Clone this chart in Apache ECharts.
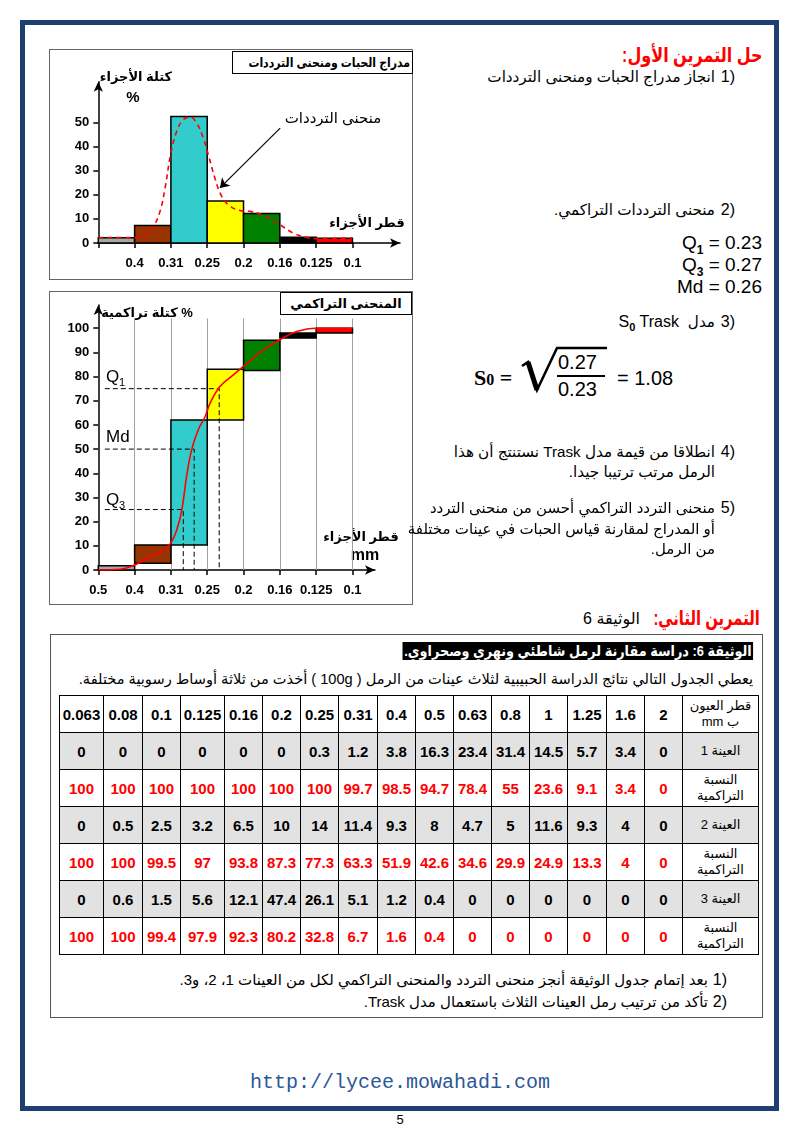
<!DOCTYPE html>
<html><head><meta charset="utf-8">
<script src="https://cdn.jsdelivr.net/npm/echarts@6/dist/echarts.min.js"></script>
<style>
body{margin:0;width:800px;height:1131px;position:relative;background:#fff;font-family:"Liberation Sans","DejaVu Sans",sans-serif;color:#000;overflow:hidden}
.a{position:absolute;white-space:nowrap}
.r{direction:rtl;text-align:right}
.num{position:absolute;white-space:nowrap;direction:ltr;unicode-bidi:bidi-override;font-size:16px;line-height:20px}
.box{position:absolute;box-sizing:border-box}
.sx{transform-origin:100% 50%}
table.t{position:absolute;left:59px;top:695px;border-collapse:collapse;table-layout:fixed;direction:rtl}
table.t td{border:1.5px solid #000;height:36px;padding:0;text-align:center;font-weight:bold;font-size:15px;font-family:"Liberation Sans",sans-serif}
table.t td.lab{font-weight:normal;font-size:13px;line-height:16px;font-family:"Liberation Sans","DejaVu Sans",sans-serif}
table.t tr.g td{background:#e2e2e2}
table.t tr.c td{color:#ff0000}
table.t tr.c td.lab{color:#000}
</style></head><body>
<div class="box" style="left:20px;top:20px;width:759px;height:1091px;border:5px solid #1f3f73"></div>

<div class="box" style="left:49px;top:49px;width:364px;height:231px;border:1.5px solid #666"></div>
<div id="c1" class="a" style="left:49px;top:49px;width:364px;height:231px"></div>
<div class="box" style="left:232px;top:51px;width:181px;height:23px;border:1px solid #000;background:#fff;font-weight:bold;font-size:13px;line-height:21px;text-align:center;white-space:nowrap;overflow:visible"><span style="display:inline-block;direction:rtl;transform:scaleX(0.84);transform-origin:50% 50%">مدراج الحبات ومنحنى الترددات</span></div>

<div class="box" style="left:49px;top:291px;width:364px;height:314px;border:1.5px solid #666"></div>
<div id="c2" class="a" style="left:49px;top:291px;width:364px;height:314px"></div>
<div class="box" style="left:280px;top:292px;width:132px;height:23px;border:1px solid #000;background:#fff;font-weight:bold;font-size:13px;line-height:21px;text-align:center;direction:rtl;white-space:nowrap">المنحنى التراكمي</div>

<!-- right column -->
<div class="a r sx" style="right:38px;top:43px;font-size:20px;line-height:24px;font-weight:bold;color:#ff0000;transform:scaleX(0.8)">حل التمرين الأول:</div>
<div class="num" style="right:65px;top:67px">1)</div>
<div class="a r" style="right:85px;top:67px;font-size:15.2px;line-height:20px">انجاز مدراج الحبات ومنحنى الترددات</div>
<div class="num" style="right:65px;top:200px">2)</div>
<div class="a r" style="right:85px;top:200px;font-size:15.2px;line-height:20px">منحنى الترددات التراكمي.</div>
<div class="a" style="right:38px;top:232px;font-size:19px;line-height:22px;text-align:right">Q<sub style="font-size:12px;font-weight:bold">1</sub> = 0.23</div>
<div class="a" style="right:38px;top:254px;font-size:19px;line-height:22px;text-align:right">Q<sub style="font-size:12px;font-weight:bold">3</sub> = 0.27</div>
<div class="a" style="right:38px;top:276px;font-size:19px;line-height:22px;text-align:right">Md = 0.26</div>
<div class="num" style="right:65px;top:312px">3)</div>
<div class="a r" style="right:85px;top:312px;font-size:16px;line-height:20px"><span style="font-size:15.2px">مدل</span>&nbsp;&nbsp;S<sub style="font-size:11px;font-weight:bold">0</sub> Trask</div>

<div class="a" style="left:474px;top:365px;font-family:'Liberation Serif',serif;font-weight:bold;font-size:22px;line-height:26px">S<span style="font-size:16px">0</span> =</div>
<svg class="a" style="left:515px;top:340px" width="100" height="60">
  <polyline points="7,26 13,22 22,50 42,8 92,8" fill="none" stroke="#000" stroke-width="2.5" stroke-linejoin="miter"/>
  <polyline points="13,22 22,50" fill="none" stroke="#000" stroke-width="5"/>
  <line x1="42" y1="36" x2="90" y2="36" stroke="#000" stroke-width="2"/>
</svg>
<div class="a" style="left:558px;top:350px;font-size:20px;line-height:24px">0.27</div>
<div class="a" style="left:558px;top:377px;font-size:20px;line-height:24px">0.23</div>
<div class="a" style="left:617px;top:366px;font-size:20px;line-height:24px">= 1.08</div>

<div class="num" style="right:65px;top:442px">4)</div>
<div class="a r" style="right:85px;top:442px;font-size:15.2px;line-height:20px">انطلاقا من قيمة مدل Trask نستنتج أن هذا</div>
<div class="a r" style="right:85px;top:462px;font-size:15.2px;line-height:20px">الرمل مرتب ترتيبا جيدا.</div>
<div class="num" style="right:65px;top:498px">5)</div>
<div class="a r" style="right:85px;top:498px;font-size:15px;line-height:20px">منحنى التردد التراكمي أحسن من منحنى التردد</div>
<div class="a r" style="right:85px;top:519px;font-size:15px;line-height:20px">أو المدراج لمقارنة قياس الحبات في عينات مختلفة</div>
<div class="a r" style="right:85px;top:539px;font-size:15px;line-height:20px">من الرمل.</div>

<div class="a r sx" style="right:40px;top:606px;font-size:20px;line-height:24px;color:#ff0000;font-weight:bold;transform:scaleX(0.74)">التمرين الثاني:</div>
<div class="a r" style="right:160px;top:609px;font-size:16px;line-height:20px">الوثيقة 6</div>

<div class="box" style="left:50px;top:634px;width:713px;height:384px;border:1.5px solid #555"></div>
<div class="a r sx" style="right:47px;top:642px;font-size:15px;line-height:18px;font-weight:bold;color:#fff;background:#000;padding:0 2px;transform:scaleX(0.855)">الوثيقة 6: دراسة مقارنة لرمل شاطئي ونهري وصحراوي.</div>
<div class="a r" style="right:47px;top:669px;font-size:14.6px;line-height:20px">يعطي الجدول التالي نتائج الدراسة الحبيبية لثلاث عينات من الرمل ( 100g ) أخذت من ثلاثة أوساط رسوبية مختلفة.</div>
<table class="t" id="tbl"></table>

<div class="num" style="right:73px;top:970px">1)</div>
<div class="a r" style="right:92px;top:970px;font-size:15px;line-height:20px">بعد إتمام جدول الوثيقة أنجز منحنى التردد والمنحنى التراكمي لكل من العينات 1، 2، و3.</div>
<div class="num" style="right:73px;top:992px">2)</div>
<div class="a r" style="right:92px;top:992px;font-size:15px;line-height:20px">تأكد من ترتيب رمل العينات الثلاث باستعمال مدل Trask.</div>

<div class="a" style="left:0;width:800px;top:1071px;text-align:center;font-family:'Liberation Mono',monospace;font-size:20px;line-height:24px;color:#2b5797">http://lycee.mowahadi.com</div>
<div class="a" style="left:0;width:800px;top:1112px;text-align:center;font-size:13px;line-height:16px">5</div>

<script>
// ---------- data: exercise 1 charts ----------
const sieveLabels = ['0.5','0.4','0.31','0.25','0.2','0.16','0.125','0.1'];
const massPct = [2.2, 7.2, 52.4, 17.4, 12.2, 2.4, 2.0];
const cumLow  = [0, 2.8, 10.3, 62, 82.5, 96, 98];
const cumHigh = [1.8, 10.3, 62, 83, 95, 98, 100];
const freqCurveX = [0, 1.01, 1.33, 1.52, 1.70, 1.84, 1.99, 2.16, 2.34, 2.53, 2.71, 2.89, 3.03, 3.21, 3.40, 3.63, 3.90, 4.18, 4.55, 5.0, 5.37, 5.74, 6.01, 7.0];
const freqCurveY = [2.3, 2.3, 4.1, 6.9, 13.1, 22.8, 36.6, 46.3, 51.1, 52.1, 49.7, 43.5, 36.6, 26.9, 19.3, 15.2, 13.5, 13.1, 11.5, 7.6, 4.1, 2.3, 1.8, 2.1];
const cumCurveX = [0, 0.6, 1.01, 1.42, 1.79, 1.99, 2.16, 2.30, 2.43, 2.57, 2.75, 2.94, 3.08, 3.35, 3.72, 3.99, 4.55, 5.0, 5.46, 6.01, 7.0];
const cumCurveY = [0, 0.3, 2.1, 5.5, 8.3, 11, 16.6, 24.8, 38.6, 49.7, 57.9, 63.4, 69, 75.9, 80.7, 84.1, 91, 95.2, 98.6, 100, 100];
const quartileNames = ['Q1', 'Md', 'Q3'];
const quartileLevels = [75, 50, 25];
const quartileX = [3.33, 2.64, 2.34];

// ---------- data: document 6 table ----------
const sizes = ['2','1.6','1.25','1','0.8','0.63','0.5','0.4','0.31','0.25','0.2','0.16','0.125','0.1','0.08','0.063'];
const sample1 = [0,3.4,5.7,14.5,31.4,23.4,16.3,3.8,1.2,0.3,0,0,0,0,0,0];
const cum1    = [0,3.4,9.1,23.6,55,78.4,94.7,98.5,99.7,100,100,100,100,100,100,100];
const sample2 = [0,4,9.3,11.6,5,4.7,8,9.3,11.4,14,10,6.5,3.2,2.5,0.5,0];
const cum2    = [0,4,13.3,24.9,29.9,34.6,42.6,51.9,63.3,77.3,87.3,93.8,97,99.5,100,100];
const sample3 = [0,0,0,0,0,0,0.4,1.2,5.1,26.1,47.4,12.1,5.6,1.5,0.6,0];
const cum3    = [0,0,0,0,0,0,0.4,1.6,6.7,32.8,80.2,92.3,97.9,99.4,100,100];
const rowLabels = ['قطر العيون<br>ب mm','العينة 1','النسبة<br>التراكمية','العينة 2','النسبة<br>التراكمية','العينة 3','النسبة<br>التراكمية'];

// build table
(function(){
  const widths = [76,38,38,39,38,38,38,38,38,39,38,38,38,44,38,39,44];
  const rows = [sizes, sample1, cum1, sample2, cum2, sample3, cum3];
  const cls = ['', 'g', 'c', 'g', 'c', 'g', 'c'];
  let h = '<colgroup>' + widths.map(w => '<col style="width:' + w + 'px">').join('') + '</colgroup>';
  rows.forEach((r, k) => {
    h += '<tr class="' + cls[k] + '"><td class="lab">' + rowLabels[k] + '</td>' + r.map(v => '<td>' + v + '</td>').join('') + '</tr>';
  });
  const t = document.getElementById('tbl');
  t.innerHTML = h;
  t.style.width = widths.reduce((a, b) => a + b, 0) + 'px';
})();

const FONT = '"Liberation Sans", "DejaVu Sans", sans-serif';
const binColors = ['#a6a6a6','#993300','#33cccc','#ffff00','#008000','#000000','#ff0000'];
const axisLineStyle = {color:'#000', width:1.5};
const lab = {color:'#000', fontWeight:'bold', fontSize:13, fontFamily:FONT};

// ---------- chart 1: histogram + frequency curve ----------
const c1 = echarts.init(document.getElementById('c1'));
c1.setOption({
  animation:false,
  grid:{left:49.3, top:32.7, right:13, bottom:37},
  xAxis:{type:'value', min:0, max:8.31,
    axisLine:{show:true, lineStyle:axisLineStyle, symbol:['none','arrow'], symbolSize:[7,10]},
    axisTick:{show:true, customValues:[0,1,2,3,4,5,6,7], length:5, lineStyle:axisLineStyle},
    axisLabel:Object.assign({customValues:[1,2,3,4,5,6,7], margin:14, formatter:v => sieveLabels[Math.round(v)]}, lab),
    splitLine:{show:false}},
  yAxis:{type:'value', min:0, max:66.8,
    axisLine:{show:true, lineStyle:axisLineStyle, symbol:['none','arrow'], symbolSize:[7,10]},
    axisTick:{show:true, customValues:[0,10,20,30,40,50], length:5, lineStyle:axisLineStyle},
    axisLabel:Object.assign({customValues:[0,10,20,30,40,50], margin:9}, lab),
    splitLine:{show:false}},
  series:[
    {type:'custom', data:massPct.map((v,i) => [i, v]), encode:{x:0, y:1},
     renderItem:(p, api) => {
       const i = api.value(0), v = api.value(1);
       const a = api.coord([i, 0]), b = api.coord([i + 1, v]);
       return {type:'rect', shape:{x:a[0], y:b[1], width:b[0]-a[0], height:a[1]-b[1]},
               style:{fill:binColors[i], stroke:'#000', lineWidth:1.5}};
     }, z:2},
    {type:'line', data:freqCurveX.map((x,i) => [x, freqCurveY[i]]), smooth:0.4, showSymbol:false,
     lineStyle:{color:'#ff0000', width:1.6, type:[5,4]}, z:3,
     markLine:{silent:true, symbol:['none','arrow'], symbolSize:9, label:{show:false},
       lineStyle:{color:'#000', width:1.2, type:'solid'},
       data:[[{coord:[5.01, 47.6]}, {coord:[3.35, 22.8]}]]}}
  ],
  graphic:[
    {type:'text', x:87, y:28, style:{text:'كتلة الأجزاء', font:'bold 13px ' + FONT, align:'center', verticalAlign:'middle', fill:'#000'}},
    {type:'text', x:84, y:49, style:{text:'%', font:'bold 15px ' + FONT, align:'center', verticalAlign:'middle', fill:'#000'}},
    {type:'text', x:284, y:70, style:{text:'منحنى الترددات', font:'15px ' + FONT, align:'center', verticalAlign:'middle', fill:'#000'}},
    {type:'text', x:318, y:174, style:{text:'قطر الأجزاء', font:'bold 13px ' + FONT, align:'center', verticalAlign:'middle', fill:'#000'}}
  ]
});

// ---------- chart 2: cumulative curve ----------
const c2 = echarts.init(document.getElementById('c2'));
const qSeries = quartileLevels.map((lv, k) => ({
  type:'line', name:quartileNames[k], data:[[0.18, lv], [quartileX[k], lv], [quartileX[k], 0]], showSymbol:false, silent:true,
  lineStyle:{color:'#000', width:1, type:[5,3]}, z:4
}));
c2.setOption({
  animation:false,
  grid:{left:49.3, top:14, right:38, bottom:35},
  xAxis:{type:'value', min:0, max:7.62,
    axisLine:{show:true, lineStyle:axisLineStyle, symbol:['none','arrow'], symbolSize:[7,10]},
    axisTick:{show:true, customValues:[0,1,2,3,4,5,6,7], length:5, lineStyle:axisLineStyle},
    axisLabel:Object.assign({customValues:[0,1,2,3,4,5,6,7], margin:14, formatter:v => sieveLabels[Math.round(v)]}, lab),
    splitLine:{show:false}},
  yAxis:{type:'value', min:0, max:109.6,
    axisLine:{show:true, lineStyle:axisLineStyle, symbol:['none','arrow'], symbolSize:[7,10]},
    axisTick:{show:true, customValues:[0,10,20,30,40,50,60,70,80,90,100], length:5, lineStyle:axisLineStyle},
    axisLabel:Object.assign({customValues:[0,10,20,30,40,50,60,70,80,90,100], margin:9}, lab),
    splitLine:{show:false}},
  series:[
    {type:'custom', data:cumLow.map((lo,i) => [i, lo, cumHigh[i]]), encode:{x:0, y:[1,2]},
     renderItem:(p, api) => {
       const i = api.value(0), lo = api.value(1), hi = api.value(2);
       const a = api.coord([i, lo]), b = api.coord([i + 1, hi]);
       return {type:'rect', shape:{x:a[0], y:b[1], width:b[0]-a[0], height:a[1]-b[1]},
               style:{fill:binColors[i], stroke:'#000', lineWidth:1.5}};
     }, z:3,
     markLine:{silent:true, symbol:['none','none'], label:{show:false}, z:1,
       lineStyle:{color:'#a0a0a0', width:1, type:'solid'},
       data:[1,2,3,4,5,6,7].map(i => [{coord:[i, 0]}, {coord:[i, 104]}])}}
  ].concat(qSeries).concat([
    {type:'line', data:cumCurveX.map((x,i) => [x, cumCurveY[i]]), smooth:0.4, showSymbol:false,
     lineStyle:{color:'#ff0000', width:1.6}, z:5}
  ]),
  graphic:[
    {type:'text', x:98, y:22, style:{text:'كتلة تراكمية %', font:'bold 13px ' + FONT, align:'center', verticalAlign:'middle', fill:'#000'}},
    {type:'text', x:312, y:246, style:{text:'قطر الأجزاء', font:'bold 13px ' + FONT, align:'center', verticalAlign:'middle', fill:'#000'}},
    {type:'text', x:316, y:265, style:{text:'mm', font:'bold 16px ' + FONT, align:'center', verticalAlign:'middle', fill:'#000'}},
    {type:'text', x:57, y:86, style:{text:'Q', font:'17px ' + FONT, verticalAlign:'middle', fill:'#000'}},
    {type:'text', x:70, y:92, style:{text:'1', font:'11px ' + FONT, verticalAlign:'middle', fill:'#000'}},
    {type:'text', x:57, y:146, style:{text:'Md', font:'17px ' + FONT, verticalAlign:'middle', fill:'#000'}},
    {type:'text', x:57, y:209, style:{text:'Q', font:'17px ' + FONT, verticalAlign:'middle', fill:'#000'}},
    {type:'text', x:70, y:215, style:{text:'3', font:'11px ' + FONT, verticalAlign:'middle', fill:'#000'}}
  ]
});
</script>
</body></html>
